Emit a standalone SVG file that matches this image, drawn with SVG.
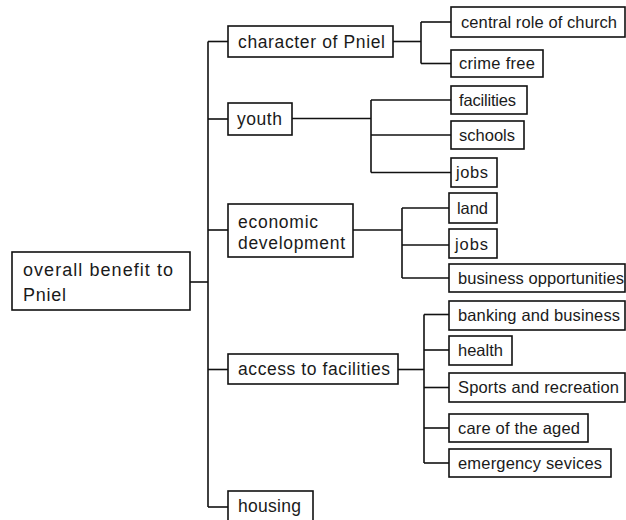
<svg xmlns="http://www.w3.org/2000/svg" width="626" height="520" viewBox="0 0 626 520">
<style>
rect{fill:#fff;stroke:#111;stroke-width:1.6}
.c line{stroke:#111;stroke-width:1.6}
text{font-family:"Liberation Sans",Arial,sans-serif;fill:#1a1a1a;font-size:17.5px}
.o text{font-size:18px}
.s text{font-size:16.5px}
</style>
<rect x="0" y="0" width="626" height="520" style="fill:#fff;stroke:none"/>
<g class="c" id="connectors">
<line x1="190" y1="282" x2="208" y2="282"/>
<line x1="208" y1="41.5" x2="208" y2="507"/>
<line x1="208" y1="41.5" x2="228" y2="41.5"/>
<line x1="208" y1="119" x2="228" y2="119"/>
<line x1="208" y1="230" x2="228" y2="230"/>
<line x1="208" y1="369.5" x2="228" y2="369.5"/>
<line x1="208" y1="507" x2="228" y2="507"/>
<line x1="393" y1="41.5" x2="421" y2="41.5"/>
<line x1="421" y1="22" x2="421" y2="63.5"/>
<line x1="421" y1="22" x2="451" y2="22"/>
<line x1="421" y1="63.5" x2="451" y2="63.5"/>
<line x1="292" y1="118.5" x2="371" y2="118.5"/>
<line x1="371" y1="100" x2="371" y2="172.5"/>
<line x1="371" y1="100" x2="451" y2="100"/>
<line x1="371" y1="135" x2="451" y2="135"/>
<line x1="371" y1="172.5" x2="451" y2="172.5"/>
<line x1="353" y1="230" x2="402" y2="230"/>
<line x1="402" y1="208" x2="402" y2="278"/>
<line x1="402" y1="208" x2="449" y2="208"/>
<line x1="402" y1="245" x2="449" y2="245"/>
<line x1="402" y1="278" x2="449" y2="278"/>
<line x1="398" y1="369.5" x2="424" y2="369.5"/>
<line x1="424" y1="314.5" x2="424" y2="463"/>
<line x1="424" y1="314.5" x2="449" y2="314.5"/>
<line x1="424" y1="350" x2="449" y2="350"/>
<line x1="424" y1="387.5" x2="449" y2="387.5"/>
<line x1="424" y1="428" x2="449" y2="428"/>
<line x1="424" y1="463" x2="449" y2="463"/>
</g>
<g id="overall" class="o"><rect x="12" y="252" width="178" height="58"/><text x="23" y="275.5" textLength="150" lengthAdjust="spacing">overall benefit to</text><text x="23" y="300.5" textLength="43" lengthAdjust="spacing">Pniel</text></g>
<g id="character"><rect x="228" y="26" width="165" height="31"/><text x="238" y="47.5" textLength="147" lengthAdjust="spacing">character of Pniel</text></g>
<g id="youth"><rect x="228" y="103" width="64" height="32"/><text x="237" y="125" textLength="45" lengthAdjust="spacing">youth</text></g>
<g id="economic"><rect x="228" y="204" width="125" height="53"/><text x="238" y="227.5" textLength="80" lengthAdjust="spacing">economic</text><text x="238" y="249" textLength="107" lengthAdjust="spacing">development</text></g>
<g id="access"><rect x="228" y="354" width="170" height="30"/><text x="238" y="375" textLength="152" lengthAdjust="spacing">access to facilities</text></g>
<g id="housing"><rect x="228" y="491" width="85" height="36"/><text x="238" y="512" textLength="63" lengthAdjust="spacing">housing</text></g>
<g class="s">
<g id="central"><rect x="451" y="7" width="174" height="30"/><text x="461" y="27.5" textLength="156" lengthAdjust="spacing">central role of church</text></g>
<g id="crime"><rect x="451" y="50" width="92" height="27"/><text x="459" y="69" textLength="76" lengthAdjust="spacing">crime free</text></g>
<g id="facilities"><rect x="451" y="86" width="76" height="28"/><text x="459" y="105.5" textLength="57" lengthAdjust="spacing">facilities</text></g>
<g id="schools"><rect x="451" y="121" width="73" height="28"/><text x="459" y="140.5" textLength="56" lengthAdjust="spacing">schools</text></g>
<g id="jobs1"><rect x="451" y="158" width="46" height="29"/><text x="456" y="178" textLength="32" lengthAdjust="spacing">jobs</text></g>
<g id="land"><rect x="449" y="193" width="48" height="30"/><text x="457" y="213.5" textLength="31" lengthAdjust="spacing">land</text></g>
<g id="jobs2"><rect x="449" y="229" width="48" height="29"/><text x="455" y="249.5" textLength="33" lengthAdjust="spacing">jobs</text></g>
<g id="business"><rect x="449" y="264" width="176" height="28"/><text x="458" y="283.5" textLength="166" lengthAdjust="spacing">business opportunities</text></g>
<g id="banking"><rect x="449" y="301" width="176" height="29"/><text x="458" y="321" textLength="162" lengthAdjust="spacing">banking and business</text></g>
<g id="health"><rect x="449" y="336" width="63" height="29"/><text x="458" y="356" textLength="45" lengthAdjust="spacing">health</text></g>
<g id="sports"><rect x="449" y="373" width="176" height="29"/><text x="458" y="393" textLength="161" lengthAdjust="spacing">Sports and recreation</text></g>
<g id="care"><rect x="449" y="414" width="139" height="28"/><text x="458" y="433.5" textLength="122" lengthAdjust="spacing">care of the aged</text></g>
<g id="emergency"><rect x="449" y="449" width="162" height="28"/><text x="458" y="468.5" textLength="144" lengthAdjust="spacing">emergency sevices</text></g>
</g>
</svg>
